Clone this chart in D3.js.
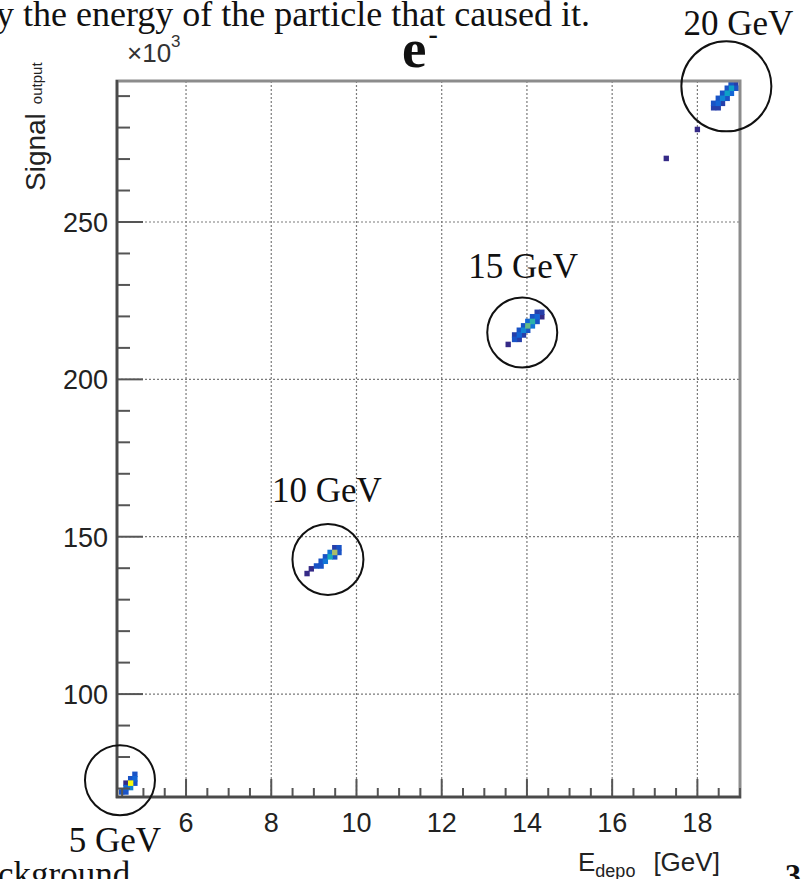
<!DOCTYPE html>
<html>
<head>
<meta charset="utf-8">
<script src="https://cdn.jsdelivr.net/npm/d3@7"></script>
<style>
  body { margin: 0; background: #fff; }
  svg { display: block; }
</style>
</head>
<body>
<script>
// 2D histogram cells: [E_depo (GeV), Signal_output (x10^3), entries]
const cells5 = [
  [4.80, 74.5, 3],
  [4.70, 73.1, 3], [4.80, 73.1, 4],
  [4.59, 71.7, 1], [4.70, 71.7, 20], [4.80, 71.7, 3],
  [4.59, 70.3, 4], [4.70, 70.3, 6],
  [4.49, 68.9, 3], [4.59, 68.9, 3]
];
const cells10 = [
  [9.49, 146.5, 2], [9.59, 146.5, 3],
  [9.38, 145.0, 5], [9.49, 145.0, 14], [9.59, 145.0, 3],
  [9.27, 143.6, 3], [9.38, 143.6, 9], [9.49, 143.6, 3],
  [9.17, 142.2, 3], [9.27, 142.2, 5],
  [9.06, 140.7, 3], [9.17, 140.7, 3],
  [8.94, 139.8, 1], [8.84, 138.3, 1]
];
const cells15 = [
  [14.24, 221.3, 2], [14.35, 221.3, 2],
  [14.13, 219.9, 3], [14.24, 219.9, 4], [14.35, 219.9, 1],
  [14.02, 218.4, 4], [14.13, 218.4, 10], [14.24, 218.4, 3],
  [13.92, 217.0, 3], [14.02, 217.0, 12], [14.13, 217.0, 5],
  [13.82, 215.6, 3], [13.92, 215.6, 6], [14.02, 215.6, 3],
  [13.71, 214.1, 2], [13.82, 214.1, 4], [13.92, 214.1, 2],
  [13.71, 212.7, 3], [13.82, 212.7, 2],
  [13.56, 211.1, 1]
];
const cells20 = [
  [18.79, 294.0, 3], [18.90, 294.0, 2],
  [18.70, 292.5, 3], [18.80, 292.5, 8], [18.91, 292.5, 3],
  [18.59, 290.9, 3], [18.70, 290.9, 8], [18.80, 290.9, 4],
  [18.49, 289.3, 3], [18.59, 289.3, 6], [18.70, 289.3, 3],
  [18.38, 287.7, 3], [18.49, 287.7, 4], [18.59, 287.7, 2],
  [18.38, 286.3, 2], [18.49, 286.3, 2]
];
const strayCells = [[17.27, 270.2, 1], [18.00, 279.4, 1]];

// beam energy annotations: label, ring centre (GeV, x10^3)
const beamLabels = ["5 GeV", "10 GeV", "15 GeV", "20 GeV"];
const ringE = [4.45, 9.33, 13.89, 18.68];
const ringS = [72.6, 142.8, 214.9, 293.1];

const xTicks = [6, 8, 10, 12, 14, 16, 18];
const yTicks = [100, 150, 200, 250];
const xDomain = [4.38, 19.0];
const yDomain = [67.3, 294.8];

// ROOT kBird palette
const birdStops = ["#352a87", "#0f5cdd", "#1481d6", "#06a4ca", "#2eb7a4",
                   "#87bf77", "#d1bb59", "#fec832", "#f9fb0e"];

const W = 806, H = 879;
const L = 117, R = 740, T = 81, B = 797;
const xBinW = 0.125, yBinW = 1.75;

const svg = d3.select("body").append("svg").attr("width", W).attr("height", H);

const x = d3.scaleLinear().domain(xDomain).range([L, R]);
const y = d3.scaleLinear().domain(yDomain).range([B, T]);
const color = d3.scaleSequential(d3.interpolateRgbBasis(birdStops)).domain([1, 20]);

const serif = "'Liberation Serif', 'DejaVu Serif', serif";
const sans = "'Liberation Sans', Arial, sans-serif";

// surrounding slide text
svg.append("text").attr("x", -4).attr("y", 26)
  .attr("font-family", serif).attr("font-size", 36).attr("fill", "#111")
  .text("y the energy of the particle that caused it.");
svg.append("text").attr("x", -2).attr("y", 886)
  .attr("font-family", serif).attr("font-size", 35).attr("fill", "#111")
  .text("ckground");
svg.append("text").attr("x", 785).attr("y", 886)
  .attr("font-family", serif).attr("font-size", 32).attr("font-weight", "bold").attr("fill", "#111")
  .text("3");

// plot background
svg.append("rect").attr("x", L).attr("y", T).attr("width", R - L).attr("height", B - T).attr("fill", "#fff");

// dotted grid
const grid = svg.append("g").attr("stroke", "#7a7a7a").attr("stroke-width", 1.2).attr("stroke-dasharray", "2,2");
grid.selectAll("line.gx").data(xTicks).join("line")
  .attr("x1", d => x(d)).attr("x2", d => x(d)).attr("y1", T).attr("y2", B);
grid.selectAll("line.gy").data(yTicks).join("line")
  .attr("y1", d => y(d)).attr("y2", d => y(d)).attr("x1", L).attr("x2", R);

// histogram cells, low counts first so the peaks stay on top
svg.append("clipPath").attr("id", "plotclip").append("rect")
  .attr("x", L).attr("y", T).attr("width", R - L).attr("height", B - T);
const allCells = [].concat(cells5, cells10, cells15, cells20, strayCells)
  .sort((a, b) => a[2] - b[2]);
svg.append("g").attr("clip-path", "url(#plotclip)")
  .selectAll("rect").data(allCells).join("rect")
  .attr("x", d => x(d[0] - xBinW / 2))
  .attr("y", d => y(d[1] + yBinW / 2))
  .attr("width", d => x(d[0] + xBinW / 2) - x(d[0] - xBinW / 2))
  .attr("height", d => y(d[1] - yBinW / 2) - y(d[1] + yBinW / 2))
  .attr("fill", d => color(d[2]));

// frame
svg.append("rect").attr("x", L).attr("y", T).attr("width", R - L).attr("height", B - T)
  .attr("fill", "none").attr("stroke", "#8c8c8c").attr("stroke-width", 3);

// axes (ticks drawn inward, ROOT style)
const gx = svg.append("g").attr("transform", `translate(0,${B})`);
const xMinor = d3.range(4.5, 19.01, 0.5);
gx.selectAll("line.t").data(xMinor).join("line")
  .attr("x1", d => x(d)).attr("x2", d => x(d))
  .attr("y1", 0).attr("y2", d => (Math.abs(d % 2) < 1e-6 ? -18 : -9))
  .attr("stroke", "#555").attr("stroke-width", 2);
gx.append("line").attr("x1", L - 1).attr("x2", R + 1).attr("stroke", "#4a4a4a").attr("stroke-width", 2.5);
gx.selectAll("text").data(xTicks).join("text")
  .attr("x", d => x(d)).attr("y", 35).attr("text-anchor", "middle")
  .attr("font-family", sans).attr("font-size", 27).attr("fill", "#222")
  .text(d => d);

const gy = svg.append("g").attr("transform", `translate(${L},0)`);
const yMinor = d3.range(70, 291, 10);
gy.selectAll("line.t").data(yMinor).join("line")
  .attr("y1", d => y(d)).attr("y2", d => y(d))
  .attr("x1", 0).attr("x2", d => (d % 50 === 0 ? 26 : 13))
  .attr("stroke", "#555").attr("stroke-width", 2);
gy.append("line").attr("y1", T - 1).attr("y2", B + 1).attr("stroke", "#4a4a4a").attr("stroke-width", 2.5);
gy.selectAll("text").data(yTicks).join("text")
  .attr("x", -9).attr("y", d => y(d) + 10).attr("text-anchor", "end")
  .attr("font-family", sans).attr("font-size", 27).attr("fill", "#222")
  .text(d => d);

// exponent
const ex = svg.append("text").attr("x", 127).attr("y", 62)
  .attr("font-family", sans).attr("font-size", 26).attr("fill", "#333");
ex.append("tspan").text("×10");
ex.append("tspan").attr("dy", -15).attr("font-size", 17).text("3");

// title
const title = svg.append("text").attr("x", 402).attr("y", 67)
  .attr("font-family", serif).attr("font-weight", "bold").attr("font-size", 55).attr("fill", "#111");
title.append("tspan").text("e");
title.append("tspan").attr("dy", -24).attr("dx", 2).attr("font-size", 28).text("-");

// axis titles
const xt = svg.append("text").attr("x", 578).attr("y", 871)
  .attr("font-family", sans).attr("font-size", 26).attr("fill", "#222");
xt.append("tspan").text("E");
xt.append("tspan").attr("dy", 6).attr("font-size", 18).text("depo");
xt.append("tspan").attr("dy", -6).attr("dx", 18).text("[GeV]");

const yt = svg.append("text").attr("transform", "translate(45,191) rotate(-90)")
  .attr("font-family", sans).attr("font-size", 28).attr("fill", "#222");
yt.append("tspan").text("Signal");
yt.append("tspan").attr("dx", 9).attr("dy", -3).attr("font-size", 15).text("output");

// beam energy rings and labels
const ringR = [35, 35.5, 35, 45];
const labelDy = [72, -57, -54, -51];
const labelDx = [-5, -1, 1, 12];
const ann = svg.append("g");
beamLabels.forEach((lab, i) => {
  const cx = x(ringE[i]), cy = y(ringS[i]);
  ann.append("circle").attr("cx", cx).attr("cy", cy).attr("r", ringR[i])
    .attr("fill", "none").attr("stroke", "#111").attr("stroke-width", 2);
  ann.append("text").attr("x", cx + labelDx[i]).attr("y", cy + labelDy[i])
    .attr("text-anchor", "middle").attr("font-family", serif).attr("font-size", 35).attr("fill", "#111")
    .text(lab);
});
</script>
</body>
</html>
